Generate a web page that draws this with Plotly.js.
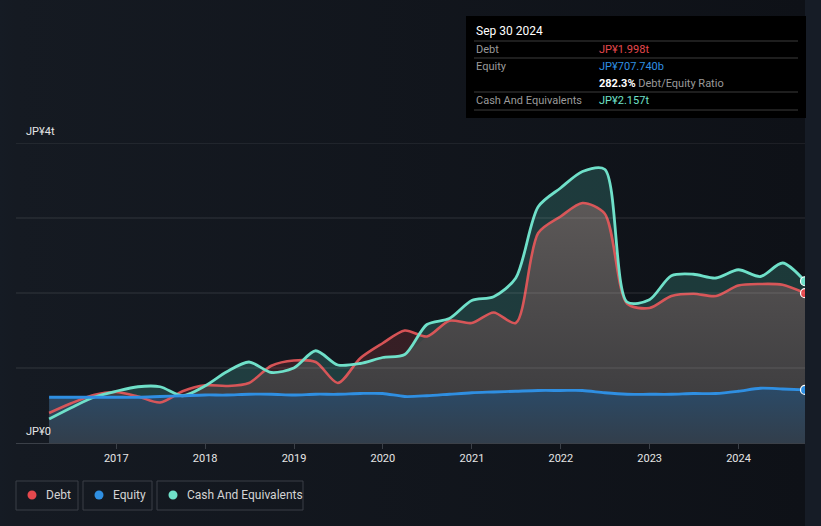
<!DOCTYPE html>
<html>
<head>
<meta charset="utf-8">
<script src="https://cdn.plot.ly/plotly-3.0.1.min.js"></script>
<style>
  body { margin: 0; background: #151b24; }
  #chart {
    width: 821px; height: 526px;
    background: linear-gradient(to right, #151b24 0px, #151a22 16px, #0e1117 805px, #161c26 805px);
  }
</style>
</head>
<body>
<div id="chart"></div>
<script>
// quarterly balance sheet values, JP¥ trillions
const quarters = [
  '2016-03-31','2016-06-30','2016-09-30','2016-12-31',
  '2017-03-31','2017-06-30','2017-09-30','2017-12-31',
  '2018-03-31','2018-06-30','2018-09-30','2018-12-31',
  '2019-03-31','2019-06-30','2019-09-30','2019-12-31',
  '2020-03-31','2020-06-30','2020-09-30','2020-12-31',
  '2021-03-31','2021-06-30','2021-09-30','2021-12-31',
  '2022-03-31','2022-06-30','2022-09-30','2022-12-31',
  '2023-03-31','2023-06-30','2023-09-30','2023-12-31',
  '2024-03-31','2024-06-30','2024-09-30'
];
const debt = [
  0.40, 0.53, 0.64, 0.68,
  0.62, 0.54, 0.69, 0.77,
  0.76, 0.80, 1.03, 1.10,
  1.08, 0.80, 1.13, 1.33,
  1.50, 1.42, 1.63, 1.60,
  1.74, 1.60, 2.80, 3.02,
  3.20, 3.06, 1.86, 1.80,
  1.96, 1.99, 1.96, 2.10,
  2.12, 2.11, 1.998
];
const equity = [
  0.61, 0.61, 0.61, 0.61,
  0.61, 0.62, 0.63, 0.64,
  0.64, 0.65, 0.65, 0.64,
  0.65, 0.65, 0.66, 0.66,
  0.62, 0.63, 0.65, 0.67,
  0.68, 0.69, 0.70, 0.70,
  0.70, 0.67, 0.65, 0.65,
  0.65, 0.66, 0.66, 0.69,
  0.73, 0.72, 0.70774
];
const cash = [
  0.32, 0.47, 0.61, 0.69,
  0.75, 0.75, 0.63, 0.76,
  0.95, 1.08, 0.94, 1.00,
  1.23, 1.04, 1.06, 1.14,
  1.18, 1.58, 1.66, 1.90,
  1.95, 2.20, 3.15, 3.40,
  3.62, 3.65, 1.88, 1.91,
  2.23, 2.25, 2.20, 2.31,
  2.22, 2.40, 2.157
];
const yearTicks = ['2017','2018','2019','2020','2021','2022','2023','2024'];
const seriesNames = ['Debt', 'Equity', 'Cash And Equivalents'];

const red = '#e5484d', blue = '#2f8fe2', teal = '#6fe0c9';
const font = 'Roboto, "Open Sans", sans-serif';

const lower = debt.map((d, i) => Math.min(d, cash[i]));
const last = quarters.length - 1;

function area(y, fill, grad) {
  const t = {
    x: quarters, y: y, type: 'scatter', mode: 'none',
    fill: 'tozeroy', line: {shape: 'spline', smoothing: 0.8},
    fillcolor: fill, hoverinfo: 'skip'
  };
  if (grad) t.fillgradient = grad;
  return t;
}
function line(y, color, width, opacity) {
  return {
    x: quarters, y: y, type: 'scatter', mode: 'lines',
    line: {color: color, width: width, shape: 'spline', smoothing: 0.8},
    opacity: opacity || 1, hoverinfo: 'skip'
  };
}

const traces = [
  area(debt, 'rgba(229,72,77,0.18)'),
  area(cash, 'rgba(80,200,180,0.22)'),
  area(lower, '#4a4747', {type: 'vertical', start: 0, stop: 3.4,
    colorscale: [[0, '#38383b'], [1, '#5e5a59']]}),
  area(equity, '#2c4760', {type: 'vertical', start: 0, stop: 0.72,
    colorscale: [[0, '#323e4b'], [1, '#2b4a67']]}),
  line(debt, '#e5585a', 2.6, 0.92),
  line(cash, teal, 2.8),
  line(equity, blue, 2.8),
  {
    x: [quarters[last], quarters[last], quarters[last]],
    y: [debt[last], equity[last], cash[last]],
    type: 'scatter', mode: 'markers', hoverinfo: 'skip',
    marker: {size: 9, color: [red, blue, teal], line: {color: '#ffffff', width: 1.2}}
  }
];

// pixel -> paper helpers (plot area 16..805 x 143..443)
const px = v => (v - 16) / 789;
const py = v => (443 - v) / 300;

const shapes = [];
const annotations = [];

// gridlines on top of fills
[1, 2, 3, 4].forEach(v => shapes.push({
  type: 'line', xref: 'paper', yref: 'y', x0: 0, x1: 1, y0: v, y1: v,
  layer: 'above', line: {color: 'rgba(255,255,255,0.13)', width: 1}
}));

// y labels
annotations.push({xref: 'paper', yref: 'paper', x: px(24), y: py(131), text: 'JP¥4t',
  showarrow: false, xanchor: 'left', yanchor: 'middle', font: {family: font, size: 11, color: '#e6e6e6'}});
annotations.push({xref: 'paper', yref: 'paper', x: px(24), y: py(431), text: 'JP¥0',
  showarrow: false, xanchor: 'left', yanchor: 'middle', font: {family: font, size: 11, color: '#e6e6e6'}});

// tooltip box
shapes.push({type: 'rect', xref: 'paper', yref: 'paper', x0: px(466), x1: px(806), y0: py(118), y1: py(16),
  fillcolor: '#000000', line: {width: 0}, layer: 'above'});
[41, 58, 92, 110].forEach(v => shapes.push({type: 'line', xref: 'paper', yref: 'paper',
  x0: px(474), x1: px(798), y0: py(v), y1: py(v), layer: 'above', line: {color: '#3c3c3c', width: 1}}));

const fmtT = v => 'JP¥' + v.toFixed(3) + 't';
const fmtB = v => 'JP¥' + (v * 1000).toFixed(3) + 'b';
const ratio = (debt[last] / equity[last] * 100).toFixed(1) + '%';
const tip = (x, y, text, color, size) => annotations.push({xref: 'paper', yref: 'paper',
  x: px(x), y: py(y), text: text, showarrow: false, xanchor: 'left', yanchor: 'middle',
  font: {family: font, size: size || 11, color: color}});

tip(474, 31, 'Sep 30 2024', '#ffffff', 12);
tip(474, 49, 'Debt', '#9a9a9a');
tip(597, 49, fmtT(debt[last]), red);
tip(474, 66, 'Equity', '#9a9a9a');
tip(597, 66, fmtB(equity[last]), blue);
tip(597, 83, '<b>' + ratio + '</b> <span style="color:#9a9a9a">Debt/Equity Ratio</span>', '#ffffff');
tip(474, 100, 'Cash And Equivalents', '#9a9a9a');
tip(597, 100, fmtT(cash[last]), teal);

// legend boxes
const legendBoxes = [[16, 78], [83, 152], [157, 303]];
const legendColors = [red, blue, teal];
legendBoxes.forEach((b, i) => {
  shapes.push({type: 'rect', xref: 'paper', yref: 'paper', x0: px(b[0]), x1: px(b[1]),
    y0: py(510), y1: py(481), line: {color: '#3a3f47', width: 1}, fillcolor: 'rgba(0,0,0,0)'});
  shapes.push({type: 'circle', xref: 'paper', yref: 'paper', xsizemode: 'pixel', ysizemode: 'pixel',
    xanchor: px(b[0] + 16), yanchor: py(495), x0: -4.5, x1: 4.5, y0: -4.5, y1: 4.5,
    fillcolor: legendColors[i], line: {width: 0}});
  annotations.push({xref: 'paper', yref: 'paper', x: px(b[0] + 28), y: py(495), text: seriesNames[i],
    showarrow: false, xanchor: 'left', yanchor: 'middle', font: {family: font, size: 12, color: '#d4d4d4'}});
});

const layout = {
  width: 821, height: 526,
  margin: {l: 16, r: 16, t: 143, b: 83},
  paper_bgcolor: 'rgba(0,0,0,0)',
  plot_bgcolor: 'rgba(0,0,0,0)',
  showlegend: false,
  xaxis: {
    type: 'date', range: ['2015-11-16', '2024-09-30'],
    tickvals: yearTicks.map(y => y + '-01-01'), ticktext: yearTicks,
    showgrid: false, zeroline: false,
    showline: true, linecolor: '#3b4048', linewidth: 1,
    ticks: 'outside', ticklen: 5, tickcolor: '#3b4048',
    tickfont: {family: font, size: 11, color: '#e6e6e6'}
  },
  yaxis: {
    range: [0, 4], showgrid: false, zeroline: false, showticklabels: false, fixedrange: true
  },
  shapes: shapes,
  annotations: annotations
};

Plotly.newPlot('chart', traces, layout, {staticPlot: true, displayModeBar: false});
</script>
</body>
</html>
